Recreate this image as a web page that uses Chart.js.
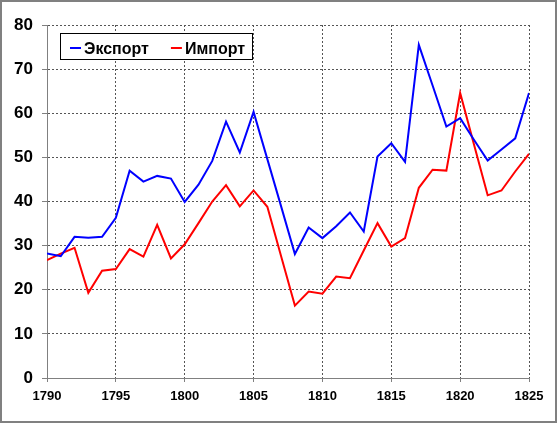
<!DOCTYPE html>
<html>
<head>
<meta charset="utf-8">
<script src="https://cdn.jsdelivr.net/npm/chart.js@4"></script>
<style>
  body { margin: 0; background: #fff; }
  canvas { display: block; }
</style>
</head>
<body>
<canvas id="tradeChart" width="558" height="424"></canvas>
<script>
const years = [1790, 1791, 1792, 1793, 1794, 1795, 1796, 1797, 1798, 1799,
  1800, 1801, 1802, 1803, 1804, 1805, 1806, 1807, 1808, 1809,
  1810, 1811, 1812, 1813, 1814, 1815, 1816, 1817, 1818, 1819,
  1820, 1821, 1822, 1823, 1824, 1825]
const exportValues = [28.2, 27.6, 32.0, 31.8, 32.0, 36.3, 47.0, 44.5, 45.8, 45.2,
  39.9, 43.8, 49.2, 58.1, 51.1, 60.3, 49.6, 38.9, 28.1, 34.1,
  31.7, 34.4, 37.5, 33.2, 50.2, 53.2, 49.0, 75.5, 66.3, 57.0,
  58.9, 54.0, 49.3, 51.8, 54.3, 64.6]
const importValues = [26.7, 28.2, 29.5, 19.3, 24.3, 24.7, 29.2, 27.5, 34.7, 27.1,
  30.3, 35.1, 40.0, 43.7, 38.9, 42.5, 38.8, 27.6, 16.4, 19.6,
  19.1, 23.0, 22.6, 28.9, 35.1, 29.8, 31.7, 43.1, 47.2, 47.0,
  64.6, 53.0, 41.4, 42.5, 46.8, 50.8]
const seriesLabels = ['Экспорт', 'Импорт']

const fontFamily = 'Arial, "Liberation Sans", sans-serif'
const ctx = document.getElementById('tradeChart').getContext('2d')

function toPoints (values) {
  return values.map((v, i) => ({ x: years[i], y: v }))
}

// white page + grey frame round the whole picture
const frame = {
  id: 'frame',
  beforeDraw (chart) {
    const c = chart.ctx
    c.save()
    c.fillStyle = '#fff'
    c.fillRect(0, 0, chart.width, chart.height)
    c.restore()
  },
  afterDraw (chart) {
    const c = chart.ctx
    c.save()
    c.strokeStyle = '#808080'
    c.lineWidth = 2
    c.strokeRect(1, 1, 555, 421)
    c.restore()
  }
}

// boxed legend inside the plot, top left
const legendBox = {
  id: 'legendBox',
  afterDatasetsDraw (chart) {
    const c = chart.ctx
    const left = chart.chartArea.left + 13.5
    const top = chart.chartArea.top + 8.5
    c.save()
    c.fillStyle = '#fff'
    c.fillRect(left, top, 192, 26)
    c.strokeStyle = '#000'
    c.lineWidth = 1
    c.strokeRect(left, top, 192, 26)
    c.font = 'bold 16px ' + fontFamily
    c.textBaseline = 'alphabetic'
    let x = left + 9.5
    chart.data.datasets.forEach(ds => {
      c.strokeStyle = ds.borderColor
      c.lineWidth = 2
      c.beginPath()
      c.moveTo(x, top + 14.5)
      c.lineTo(x + 11, top + 14.5)
      c.stroke()
      c.fillStyle = '#000'
      c.fillText(ds.label, x + 14, top + 20)
      x += c.measureText(ds.label).width + 14 + 22
    })
    c.restore()
  }
}

new Chart(ctx, {
  type: 'line',
  data: {
    datasets: [
      {
        label: seriesLabels[0],
        data: toPoints(exportValues),
        borderColor: '#0000ff',
        backgroundColor: '#0000ff',
        borderWidth: 2,
        pointRadius: 0,
        tension: 0
      },
      {
        label: seriesLabels[1],
        data: toPoints(importValues),
        borderColor: '#ff0000',
        backgroundColor: '#ff0000',
        borderWidth: 2,
        pointRadius: 0,
        tension: 0
      }
    ]
  },
  options: {
    responsive: false,
    animation: false,
    devicePixelRatio: 1,
    layout: { padding: { left: 0, top: 25, right: 29, bottom: 0 } },
    plugins: {
      legend: { display: false },
      tooltip: { enabled: false }
    },
    scales: {
      x: {
        type: 'linear',
        min: 1790,
        max: 1825,
        offset: false,
        afterFit (scale) { scale.height = 46 },
        ticks: {
          stepSize: 5,
          color: '#000',
          padding: 7,
          maxRotation: 0,
          font: { family: fontFamily, size: 13, weight: 'bold' },
          callback: v => String(v)
        },
        grid: { color: '#555', lineWidth: 1, tickLength: 4, tickColor: '#808080', tickBorderDash: [] },
        border: { display: true, color: '#808080', width: 1, dash: [2, 2] }
      },
      y: {
        min: 0,
        max: 80,
        afterFit (scale) { scale.width = 47 },
        ticks: {
          stepSize: 10,
          color: '#000',
          padding: 9,
          font: { family: fontFamily, size: 17, weight: 'bold' }
        },
        grid: { color: '#555', lineWidth: 1, tickLength: 5, tickColor: '#808080', tickBorderDash: [] },
        border: { display: true, color: '#808080', width: 1, dash: [2, 2] }
      }
    }
  },
  plugins: [frame, legendBox]
})
</script>
</body>
</html>
